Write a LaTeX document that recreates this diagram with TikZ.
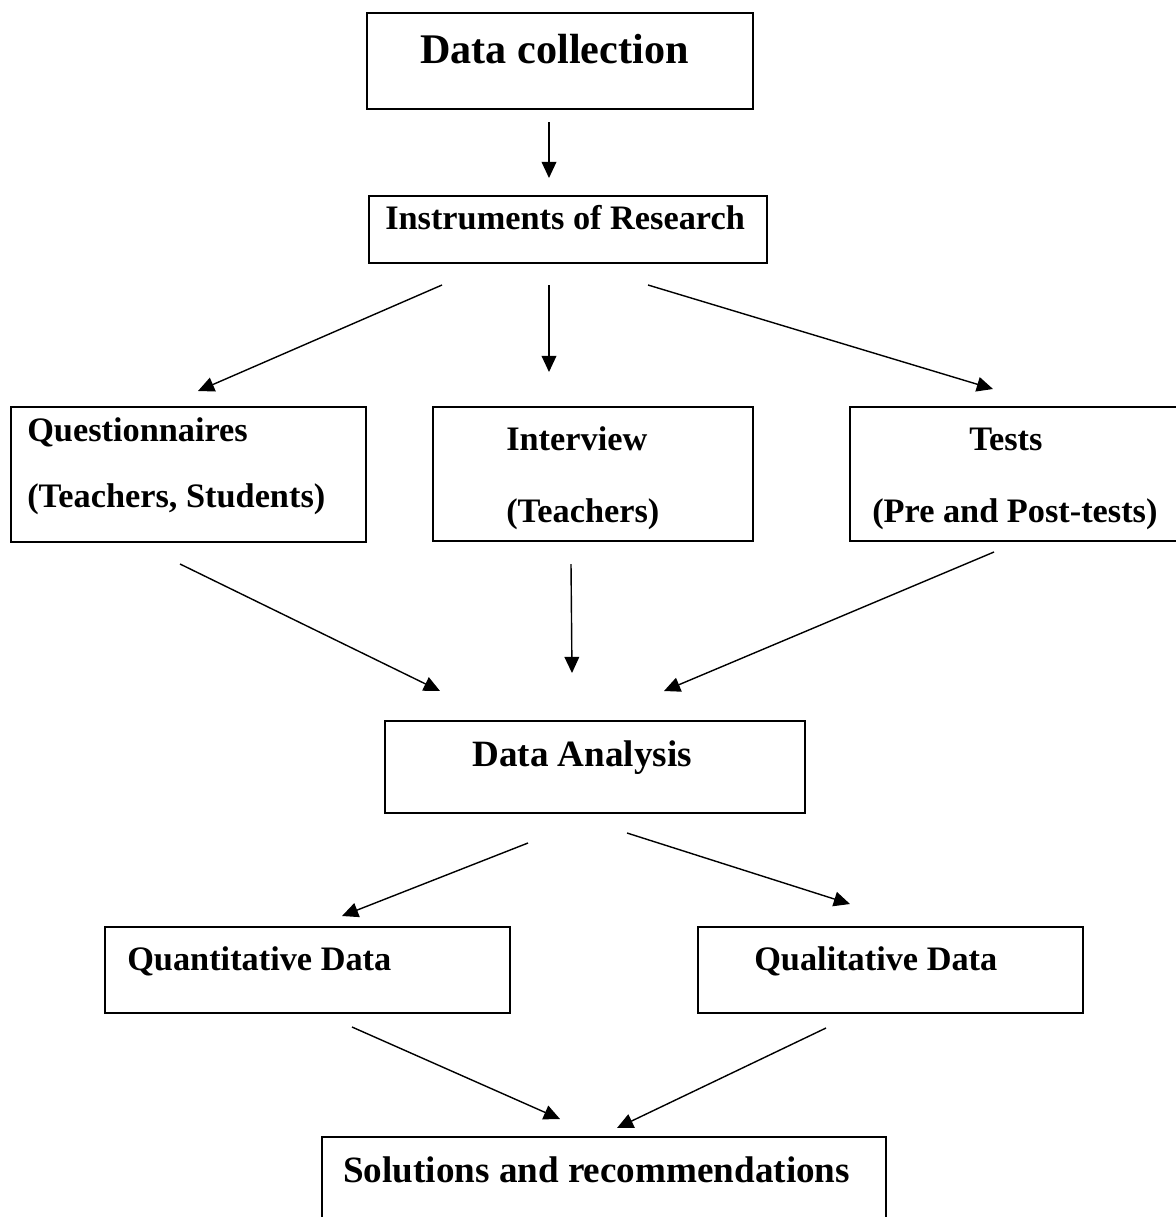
\documentclass[tikz,border=0pt]{standalone}
\usepackage{fontspec}
\setmainfont{Liberation Serif}
\usetikzlibrary{arrows.meta,fit}
\tikzset{
  box/.style={draw, line width=1pt, inner sep=0pt, fit={#1}},
  lbl/.style={anchor=base west, inner sep=0pt, font=\bfseries\fontsize{24.4}{28}\selectfont},
  lblbig/.style={lbl, font=\bfseries\fontsize{26.4}{30}\selectfont},
  lbltop/.style={lbl, font=\bfseries\fontsize{30}{34}\selectfont},
  conn/.style={line width=1pt, -{Triangle[length=11.5pt,width=10.5pt]}}
}
\begin{document}
\begin{tikzpicture}[x=0.025cm,y=-0.025cm]
\useasboundingbox (0,0) rectangle (1176,1217);
\clip (0,0) rectangle (1176,1217);
% boxes
\node[box={(367,13) (753,109)}] (dc) {};
\node[box={(369,196) (767,263)}] (ir) {};
\node[box={(11,407) (366,542)}] (q) {};
\node[box={(433,407) (753,541)}] (iv) {};
\node[box={(850,407) (1180,541)}] (ts) {};
\node[box={(385,721) (805,813)}] (da) {};
\node[box={(105,927) (510,1013)}] (qn) {};
\node[box={(698,927) (1083,1013)}] (ql) {};
\node[box={(322,1137) (886,1240)}] (sr) {};
% texts
\node[lbltop] (dcT) at (420,63) {Data collection};
\node[lbl] (irT) at (385,229) {Instruments of Research};
\node[lbl] (qT1) at (27,441) {Questionnaires};
\node[lbl] (qT2) at (27,507) {(Teachers, Students)};
\node[lbl] (ivT1) at (506,450) {Interview};
\node[lbl] (ivT2) at (506,522) {(Teachers)};
\node[lbl] (tsT1) at (969,450) {Tests};
\node[lbl] (tsT2) at (872,522) {(Pre and Post-tests)};
\node[lblbig] (daT) at (472,766) {Data Analysis};
\node[lbl] (qnT) at (127,970) {Quantitative Data};
\node[lbl] (qlT) at (754,970) {Qualitative Data};
\node[lblbig] (srT) at (343,1182) {Solutions and recommendations};
% connector end points
\coordinate (a1s) at (549,122);  \coordinate (a1e) at (549,178);
\coordinate (a2s) at (442,285);  \coordinate (a2e) at (198,391);
\coordinate (a3s) at (549,285);  \coordinate (a3e) at (549,372);
\coordinate (a4s) at (648,285);  \coordinate (a4e) at (993,389);
\coordinate (a5s) at (180,564);  \coordinate (a5e) at (440,691);
\coordinate (a6s) at (571,564);  \coordinate (a6e) at (572,673);
\coordinate (a7s) at (994,552);  \coordinate (a7e) at (664,691);
\coordinate (a8s) at (528,843);  \coordinate (a8e) at (342,916);
\coordinate (a9s) at (627,833);  \coordinate (a9e) at (850,904);
\coordinate (a10s) at (352,1027); \coordinate (a10e) at (560,1119);
\coordinate (a11s) at (826,1028); \coordinate (a11e) at (617,1128);
\foreach \i in {1,...,11} {\draw[conn] (a\i s) -- (a\i e);}
\end{tikzpicture}
\end{document}
